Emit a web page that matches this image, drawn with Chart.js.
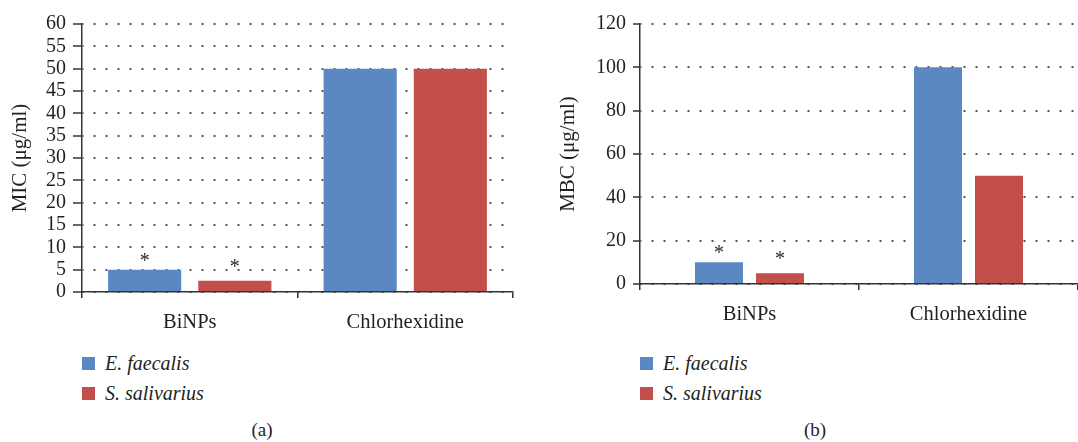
<!DOCTYPE html>
<html>
<head>
<meta charset="utf-8">
<script src="https://cdn.jsdelivr.net/npm/chart.js"></script>
<style>
    body {
        margin: 0;
        background: #ffffff;
        font-family: "Liberation Serif", "DejaVu Serif", serif;
        color: #231f20;
    }
    .page {
        position: relative;
        width: 1078px;
        height: 442px;
        overflow: hidden;
    }
    .panel-canvas {
        position: absolute;
        top: 0;
    }
    .legend {
        position: absolute;
        top: 348px;
        font-size: 20px;
        font-style: italic;
    }
    .legend-item {
        display: flex;
        align-items: center;
        height: 30px;
    }
    .legend-box {
        width: 13px;
        height: 13px;
        margin-right: 10px;
    }
    .caption {
        position: absolute;
        top: 419px;
        width: 60px;
        text-align: center;
        font-size: 19px;
    }
</style>
</head>
<body>
<div class="page">
    <canvas id="micChart" class="panel-canvas" width="530" height="335" style="left:0px"></canvas>
    <canvas id="mbcChart" class="panel-canvas" width="538" height="335" style="left:540px"></canvas>
    <div class="legend" id="micLegend" style="left:82px"></div>
    <div class="legend" id="mbcLegend" style="left:640px"></div>
    <div class="caption" style="left:232px">(a)</div>
    <div class="caption" style="left:785px">(b)</div>
</div>

<script>
const categories = ["BiNPs", "Chlorhexidine"];
const seriesNames = ["E. faecalis", "S. salivarius"];
const seriesColors = ["#5b87c3", "#c24f4a"];

// MIC panel (a)
const micFaecalis = [5, 50];
const micSalivarius = [2.5, 50];
// MBC panel (b)
const mbcFaecalis = [10, 100];
const mbcSalivarius = [5, 50];

// categories marked with * in both panels
const significant = [true, false];

const serifFont = '"Liberation Serif", "DejaVu Serif", serif';
const textColor = "#231f20";
const axisColor = "#333333";

Chart.defaults.font.family = serifFont;
Chart.defaults.color = textColor;

const asteriskPlugin = {
    id: "asterisks",
    afterDatasetsDraw(chart) {
        const ctx = chart.ctx;
        ctx.save();
        ctx.font = "20px " + serifFont;
        ctx.fillStyle = textColor;
        ctx.textAlign = "center";
        ctx.textBaseline = "alphabetic";
        chart.data.datasets.forEach(function (ds, di) {
            const meta = chart.getDatasetMeta(di);
            // the red series' stars sit a little higher in the original
            const lift = di === 0 ? 3 : 8;
            meta.data.forEach(function (bar, i) {
                if (significant[i]) {
                    ctx.fillText("*", bar.x, bar.y - lift);
                }
            });
        });
        ctx.restore();
    },
};

function buildLegend(id) {
    const el = document.getElementById(id);
    seriesNames.forEach(function (name, i) {
        const item = document.createElement("div");
        item.className = "legend-item";
        const box = document.createElement("span");
        box.className = "legend-box";
        box.style.background = seriesColors[i];
        const label = document.createElement("span");
        label.textContent = name;
        item.appendChild(box);
        item.appendChild(label);
        el.appendChild(item);
    });
}

function makeChart(canvasId, values, opts) {
    const ctx = document.getElementById(canvasId).getContext("2d");
    return new Chart(ctx, {
        type: "bar",
        data: {
            labels: categories,
            datasets: [
                {
                    label: seriesNames[0],
                    data: values[0],
                    backgroundColor: seriesColors[0],
                    categoryPercentage: opts.categoryPercentage,
                    barPercentage: opts.barPercentage,
                },
                {
                    label: seriesNames[1],
                    data: values[1],
                    backgroundColor: seriesColors[1],
                    categoryPercentage: opts.categoryPercentage,
                    barPercentage: opts.barPercentage,
                },
            ],
        },
        options: {
            responsive: false,
            animation: false,
            devicePixelRatio: 1,
            layout: {
                padding: {
                    left: opts.padLeft,
                    right: opts.padRight,
                    top: 24,
                    bottom: 0,
                },
            },
            plugins: {
                legend: { display: false },
                tooltip: { enabled: false },
            },
            scales: {
                x: {
                    grid: {
                        display: true,
                        drawOnChartArea: false,
                        offset: true,
                        tickLength: 6,
                        color: axisColor,
                        lineWidth: 1.5,
                    },
                    border: {
                        color: axisColor,
                        width: 1.5,
                    },
                    ticks: {
                        font: { size: 20.5 },
                        color: textColor,
                        padding: 12,
                    },
                    afterFit: function (scale) {
                        scale.height = opts.xHeight;
                    },
                },
                y: {
                    min: 0,
                    max: opts.max,
                    ticks: {
                        stepSize: opts.step,
                        autoSkip: false,
                        font: { size: 20 },
                        color: textColor,
                        padding: 7,
                    },
                    grid: {
                        color: "#555555",
                        lineWidth: 2,
                        tickLength: opts.tickLength,
                        tickColor: axisColor,
                        tickWidth: 1.5,
                    },
                    border: {
                        color: axisColor,
                        width: 1.5,
                        dash: [2, 10],
                        dashOffset: 1,
                    },
                    title: {
                        display: true,
                        text: opts.title,
                        font: { size: 21 },
                        color: textColor,
                        padding: { top: 0, bottom: 0 },
                    },
                    afterFit: function (scale) {
                        scale.width = opts.yWidth;
                    },
                },
            },
        },
        plugins: [asteriskPlugin],
    });
}

makeChart("micChart", [micFaecalis, micSalivarius], {
    title: "MIC (μg/ml)",
    max: 60,
    step: 5,
    padLeft: 8,
    padRight: 17,
    yWidth: 74,
    xHeight: 43,
    tickLength: 9,
    categoryPercentage: 0.837,
    barPercentage: 0.811,
});

makeChart("mbcChart", [mbcFaecalis, mbcSalivarius], {
    title: "MBC (μg/ml)",
    max: 120,
    step: 20,
    padLeft: 16,
    padRight: 0,
    yWidth: 84,
    xHeight: 51,
    tickLength: 7,
    categoryPercentage: 0.557,
    barPercentage: 0.787,
});

buildLegend("micLegend");
buildLegend("mbcLegend");
</script>
</body>
</html>
